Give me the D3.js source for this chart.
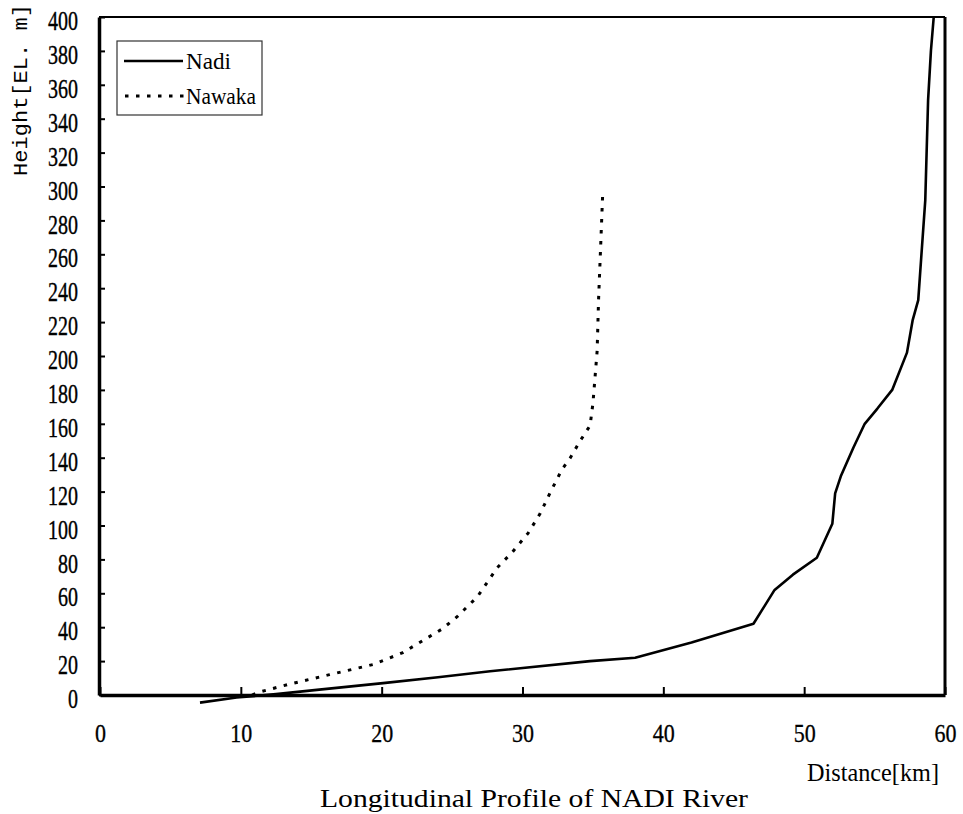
<!DOCTYPE html>
<html>
<head>
<meta charset="utf-8">
<script src="https://cdn.jsdelivr.net/npm/d3@7"></script>
<style>
  html, body { margin: 0; padding: 0; background: #fff; }
  svg { display: block; }
  text { fill: #000; }
</style>
</head>
<body>
<svg id="chart" width="963" height="814"></svg>
<script>
// ---- data ----
const nadiDistance = [7.1, 9.7, 12.5, 15.4, 20.1, 24.0, 27.7, 34.8, 38.0, 42.0, 46.4, 47.9, 49.2, 50.9, 52.0, 52.2, 52.6, 53.5, 54.3, 55.2, 56.25, 57.3, 57.7, 58.1, 58.6, 58.8, 59.0, 59.2];
const nadiHeight   = [-4.5, -1.5, 0.5, 3, 7, 10.5, 14, 20, 22, 31, 42, 62, 71, 81, 101, 119, 129, 146, 160, 169, 180, 202, 221, 233, 292, 351, 380, 400];
const nawakaDistance = [10.8, 11.2, 13.5, 16.3, 19.4, 21.5, 22.9, 24.3, 25.4, 26.8, 28.2, 29.3, 30.4, 31.25, 32.0, 32.8, 33.4, 34.1, 34.8, 35.0, 35.3, 35.4, 35.7];
const nawakaHeight   = [0, 1.5, 6.5, 12, 18, 25, 32, 39, 46.5, 58, 75, 84.5, 95.5, 107, 120, 133, 140, 150, 159, 172, 203, 233, 297];
const xTicks = [0, 10, 20, 30, 40, 50, 60];
const yTicks = [0, 20, 40, 60, 80, 100, 120, 140, 160, 180, 200, 220, 240, 260, 280, 300, 320, 340, 360, 380, 400];
const seriesNames = ["Nadi", "Nawaka"];
const yTitle = "Height[EL. m]";
const xTitle = "Distance[km]";
const chartTitle = "Longitudinal Profile of NADI River";

// ---- layout ----
const L = 99, R = 945, T = 17, B = 695;
const svg = d3.select("#chart");
const x = d3.scaleLinear().domain([0, 60]).range([L + 1, R]);
const y = d3.scaleLinear().domain([0, 400]).range([B, T]);
const serif = "'Liberation Serif', 'DejaVu Serif', serif";

// frame
svg.append("line").attr("x1", L).attr("x2", R).attr("y1", T).attr("y2", T)
  .attr("stroke", "#000").attr("stroke-width", 2);
svg.append("line").attr("x1", R).attr("x2", R).attr("y1", T).attr("y2", B)
  .attr("stroke", "#000").attr("stroke-width", 3);

// y axis
const yAxis = svg.append("g").attr("transform", `translate(${L},0)`)
  .call(d3.axisLeft(y).tickValues(yTicks).tickSize(-6).tickPadding(21).tickSizeOuter(0));
yAxis.attr("font-family", serif);
yAxis.select(".domain").attr("stroke-width", 3.5);
yAxis.selectAll(".tick line").attr("stroke-width", 2);
yAxis.selectAll(".tick text")
  .attr("font-family", serif).attr("font-size", 28).attr("dy", "0.45em")
  .attr("stroke", "#000").attr("stroke-width", 0.4)
  .attr("textLength", d => String(d).length * 10).attr("lengthAdjust", "spacingAndGlyphs");

// x axis
const xAxis = svg.append("g").attr("transform", `translate(0,${B})`)
  .call(d3.axisBottom(x).tickValues(xTicks).tickSize(-8).tickPadding(29).tickSizeOuter(0));
xAxis.attr("font-family", serif);
xAxis.select(".domain").attr("stroke-width", 3.5);
xAxis.selectAll(".tick line").attr("stroke-width", 2);
xAxis.selectAll(".tick text")
  .attr("font-family", serif).attr("font-size", 25)
  .attr("stroke", "#000").attr("stroke-width", 0.3)
  .attr("textLength", d => String(d).length * 11).attr("lengthAdjust", "spacingAndGlyphs");

// lines
const line = d3.line().x(d => x(d[0])).y(d => y(d[1]));
const nadi = nadiDistance.map((d, i) => [d, nadiHeight[i]]);
const nawaka = nawakaDistance.map((d, i) => [d, nawakaHeight[i]]);
svg.append("path").datum(nadi).attr("d", line)
  .attr("fill", "none").attr("stroke", "#000").attr("stroke-width", 2.6).attr("stroke-linejoin", "round");
svg.append("path").datum(nawaka).attr("d", line)
  .attr("fill", "none").attr("stroke", "#000").attr("stroke-width", 3).attr("stroke-dasharray", "3.5,7.5");

// legend
const lg = svg.append("g");
lg.append("rect").attr("x", 117).attr("y", 41).attr("width", 145).attr("height", 74)
  .attr("fill", "none").attr("stroke", "#333").attr("stroke-width", 1.2);
lg.append("line").attr("x1", 124).attr("x2", 183).attr("y1", 61).attr("y2", 61)
  .attr("stroke", "#000").attr("stroke-width", 2.6);
lg.append("line").attr("x1", 125).attr("x2", 184).attr("y1", 96).attr("y2", 96)
  .attr("stroke", "#000").attr("stroke-width", 3).attr("stroke-dasharray", "3.5,7.5");
lg.append("text").attr("x", 186).attr("y", 69).text(seriesNames[0])
  .attr("font-family", serif).attr("font-size", 24)
  .attr("textLength", 45).attr("lengthAdjust", "spacingAndGlyphs");
lg.append("text").attr("x", 186).attr("y", 104).text(seriesNames[1])
  .attr("font-family", serif).attr("font-size", 24)
  .attr("textLength", 70).attr("lengthAdjust", "spacingAndGlyphs");

// titles
svg.append("text").attr("transform", "translate(27,176) rotate(-90)").text(yTitle)
  .attr("font-family", "'Liberation Mono', monospace").attr("font-size", 21)
  .attr("textLength", 172).attr("lengthAdjust", "spacingAndGlyphs");
svg.append("text").attr("x", 807).attr("y", 781).text(xTitle)
  .attr("font-family", serif).attr("font-size", 25)
  .attr("textLength", 132).attr("lengthAdjust", "spacingAndGlyphs");
svg.append("text").attr("x", 320).attr("y", 807).text(chartTitle)
  .attr("font-family", serif).attr("font-size", 25)
  .attr("textLength", 428).attr("lengthAdjust", "spacingAndGlyphs");
</script>
</body>
</html>
